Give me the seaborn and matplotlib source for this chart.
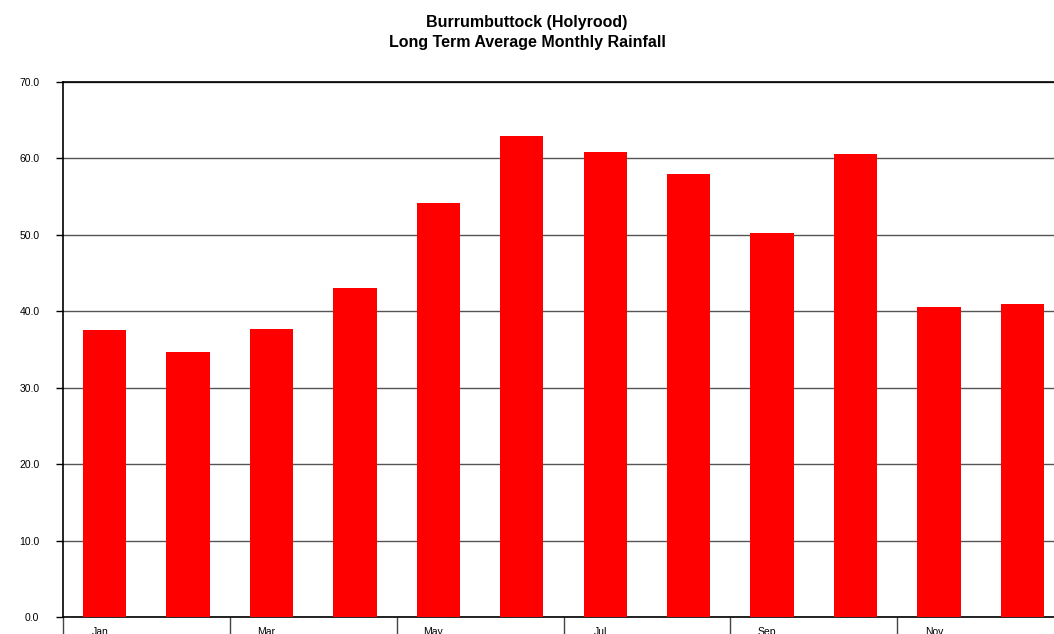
import numpy as np
import matplotlib
matplotlib.use("Agg")
import matplotlib.pyplot as plt
import seaborn as sns

# data
months = ["Jan", "Feb", "Mar", "Apr", "May", "Jun",
          "Jul", "Aug", "Sep", "Oct", "Nov", "Dec"]
rainfall_mm = [37.6, 34.7, 37.7, 43.0, 54.2, 63.0,
               60.9, 58.0, 50.3, 60.6, 40.5, 41.0]
yticks = [0, 10, 20, 30, 40, 50, 60, 70]
labelled_months = ["Jan", "Mar", "May", "Jul", "Sep", "Nov"]

sns.set_style("white")
plt.rcParams["font.family"] = ["Liberation Sans", "DejaVu Sans"]
plt.rcParams["text.color"] = "black"
plt.rcParams["xtick.color"] = "black"
plt.rcParams["ytick.color"] = "black"
plt.rcParams["axes.labelcolor"] = "black"

fig = plt.figure(figsize=(10.54, 6.34), dpi=100)
# axes runs past the right edge of the image, as in the reference
ax = fig.add_axes([63 / 1054, 17 / 634, 1001 / 1054, 535 / 634])

sns.barplot(x=months, y=rainfall_mm, color="#ff0000", saturation=1,
            width=0.52, linewidth=0, edgecolor="none", ax=ax, zorder=3)

ax.set_xlim(-0.5, len(months) - 0.5)
ax.set_ylim(0, 70)
ax.set_yticks(yticks)
ax.set_yticklabels([f"{v:.1f}" for v in yticks], fontsize=7.5)
ax.yaxis.grid(True, color="#555555", linewidth=1, zorder=0)
ax.set_axisbelow(True)
ax.tick_params(axis="y", direction="out", length=5, width=1,
               color="black", pad=12, left=True)

# boundary ticks every two months, labels placed on odd months
idx = np.arange(len(months))
ax.set_xticks(idx[::2] - 0.5)
ax.set_xticklabels([])
ax.set_xticks(idx[::2] - 0.06, minor=True)
ax.set_xticklabels(labelled_months, minor=True, fontsize=7.5)
ax.tick_params(axis="x", which="major", direction="out", length=12,
               width=1, color="#444444", bottom=True)
ax.tick_params(axis="x", which="minor", length=0, pad=7)

for side in ["left", "bottom", "top"]:
    ax.spines[side].set_visible(True)
    ax.spines[side].set_color("black")
    ax.spines[side].set_linewidth(1.2)
ax.spines["right"].set_visible(False)

ax.set_xlabel("")
ax.set_ylabel("mm", fontsize=9, fontweight="bold", labelpad=14)

fig.text(0.5, 0.977, "Burrumbuttock (Holyrood)\nLong Term Average Monthly Rainfall",
         ha="center", va="top", fontsize=11.5, fontweight="bold",
         linespacing=1.45)

fig.savefig("out.png", dpi=100)
